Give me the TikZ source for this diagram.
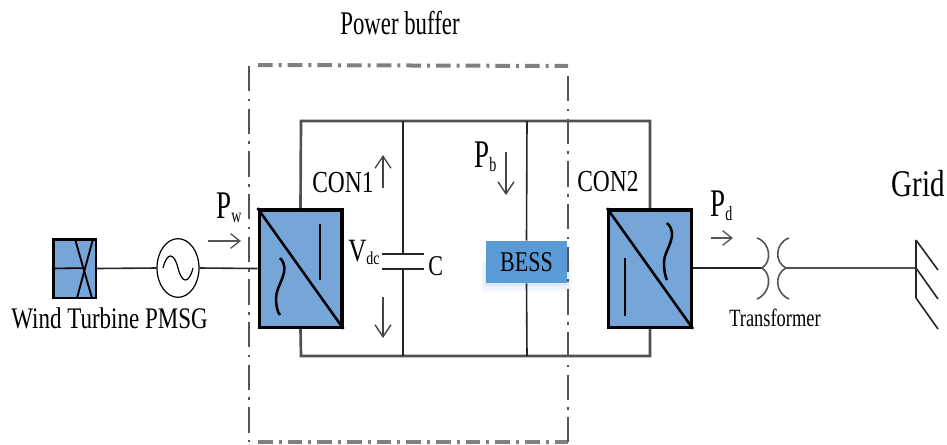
\documentclass[tikz,border=0pt]{standalone}
\usepackage{fontspec}
\usepackage{graphicx}
\setmainfont{Liberation Serif}
\usetikzlibrary{arrows.meta,shapes.geometric}
\definecolor{convfill}{HTML}{76A5D8}
\definecolor{bessfill}{HTML}{5B9BD5}
\definecolor{wirecol}{HTML}{262626}
\definecolor{buscol}{HTML}{505050}
\definecolor{buffcol}{HTML}{555555}
\definecolor{bufflight}{HTML}{808080}
\newcommand{\pxs}[1]{\fontsize{\the\dimexpr #1pt*3/4\relax}{\the\dimexpr #1pt*9/10\relax}\selectfont}
\newcommand{\stxt}[3]{\scalebox{1}[#1]{\pxs{#2}#3}}
\tikzset{
  x=0.75pt,y=-0.75pt,
  wire/.style={draw=buscol,line width=2pt},
  thinwire/.style={draw=wirecol,line width=1.2pt},
  box/.style={draw=black,line width=2.5pt,fill=convfill,inner sep=0pt,minimum width=62pt,minimum height=88pt},
  detail/.style={draw=black,line width=1.9pt},
  lab/.style={inner sep=0pt,text=black},
  flow/.style={draw=buffcol!80!black,line width=1pt,-{Straight Barb[length=9pt,width=12pt,line width=1pt]}},
  flowthick/.style={draw=buffcol,line width=1pt,-{Straight Barb[length=7pt,width=11pt,line width=1pt]}},
  bufferh/.style={draw=bufflight,line width=3pt,dash pattern=on 11pt off 4.5pt on 2.25pt off 4.5pt},
  bufferv/.style={draw=buffcol,line width=2pt,dash pattern=on 19pt off 5.5pt on 2pt off 5.5pt},
  bessbox/.style={fill=bessfill,inner sep=0pt,minimum width=60.75pt,minimum height=31.5pt,text=black},
  wt/.style={draw=black,line width=2pt,fill=convfill,inner sep=0pt,minimum width=32pt,minimum height=44pt},
  gen/.style={ellipse,draw=black,line width=.9pt,fill=white,inner sep=0pt,minimum width=31.5pt,minimum height=44pt},
}
\begin{document}
\begin{tikzpicture}
\useasboundingbox (0,0) rectangle (947,444);
% shadow
\foreach \o/\c in {9/05,6/07,3/10}{\fill[bessfill,opacity=.\c] (486-\o/2,262) rectangle (567+\o/2,283+\o);}
% nodes
\node[wt] (wt) at (74.5,268.5) {};
\node[gen] (gen) at (178,268) {};
\node[box] (con1) at (300.5,268.5) {};
\node[box] (con2) at (650,268.5) {};
\node[bessbox] (bess) at (526.5,262) {\stxt{1.3}{22}{BESS}};
\coordinate (tl) at (301,121);
\coordinate (tm1) at (403,121);
\coordinate (tm2) at (527,121);
\coordinate (tr) at (650,121);
\coordinate (bl) at (301,356);
\coordinate (bm1) at (403,356);
\coordinate (bm2) at (527,356);
\coordinate (br) at (650,356);
\coordinate (capt) at (403,254);
\coordinate (capb) at (403,269);
\coordinate (trl) at (762,268);
\coordinate (trr) at (786,268);
\coordinate (gt) at (916,240);
\coordinate (gm) at (916,268);
\coordinate (gb) at (916,298);
\coordinate (ba) at (249,66);
\coordinate (bb) at (568,66);
\coordinate (bc) at (568,442);
\coordinate (bd) at (249,442);
% turbine detail
\draw[thinwire,draw=black] (wt.west) -- (85,268);
\draw[detail,line width=1.4pt] (75,239) -- (92,298);
\draw[detail,line width=1.4pt] (93,239) -- (77,298);
% generator sine
\draw[draw=black,line width=.9pt] (163,268) .. controls (167,252) and (174,252) .. (178,268) .. controls (182,284) and (189,284) .. (193,268);
% wires
\draw[thinwire] (wt.east) -- (gen.west);
\draw[thinwire] (gen.east) -- (con1.west);
\draw[wire] (con1.north) -- (tl) -- (tr) -- (con2.north);
\draw[wire] (con1.south) -- (bl) -- (br) -- (con2.south);
\draw[thinwire] (tm1) -- (capt);
\draw[thinwire] (capb) -- (bm1);
\draw[thinwire] (tm2) -- (bess.north);
\draw[thinwire] (bess.south) -- (bm2);
\draw[thinwire] (382,254) -- (424,254);
\draw[thinwire] (382,269) -- (424,269);
\draw[thinwire] (con2.east |- trl) -- (trl);
\draw[wire] (trr) -- (gm);
\draw[thinwire] (gt) -- (gb);
\draw[thinwire] (gt) -- (938,270);
\draw[thinwire] (gm) -- (938,299);
\draw[thinwire] (gb) -- (938,329);
% transformer
\draw[thinwire,draw=buffcol] (757,238) .. controls (771,243) and (772,262) .. (762,268) .. controls (772,274) and (771,293) .. (757,299);
\draw[thinwire,draw=buffcol] (789,238) .. controls (775,243) and (774,262) .. (786,268) .. controls (774,274) and (775,293) .. (789,299);
% converter details
\draw[detail] (con1.north west) -- (con1.south east);
\draw[detail] (320,224) -- (320,280);
\draw[detail] (280,258) .. controls (292,270) and (276,285) .. (276,298) .. controls (276,304) and (277,312) .. (280,315);
\draw[detail] (con2.north west) -- (con2.south east);
\draw[detail] (625,258) -- (625,316);
\draw[detail] (667,223) .. controls (680,235) and (664,250) .. (664,262) .. controls (664,270) and (665,276) .. (667,280);
% buffer
\draw[bufferh] (258,65) -- (bb);
\draw[bufferh] (258,442) -- (bc);
\draw[bufferv] (ba) -- (bd);
\draw[bufferv] (568,76) -- (bc);
% arrows
\draw[flowthick,line width=1.8pt] (208,241) -- (241,241);
\draw[flowthick,line width=1.8pt] (711,238) -- (733,238);
\draw[flow] (383,188) -- (383,155);
\draw[flow] (383,297) -- (383,338);
\draw[flow] (506,152) -- (506,195);
% labels
\node[lab] (title) at (400,23) {\stxt{1.45}{22.8}{Power buffer}};
\node[lab] (lwt) at (109.5,318) {\stxt{1.3}{23}{Wind Turbine PMSG}};
\node[lab,anchor=west] (lpw) at (216,208) {\stxt{1.45}{27}{P\raisebox{-.2ex}{\pxs{14}w}}};
\node[lab,anchor=west] (lcon1) at (312,183) {\stxt{1.3}{23.5}{CON1}};
\node[lab,anchor=west] (lvdc) at (348,252) {\stxt{1.3}{25}{V\raisebox{-.2ex}{\pxs{14}dc}}};
\node[lab,anchor=west] (lc) at (428,266) {\stxt{1.3}{22}{C}};
\node[lab,anchor=west] (lpb) at (474,157) {\stxt{1.45}{27}{P\raisebox{-.2ex}{\pxs{14}b}}};
\node[lab,anchor=west] (lcon2) at (577,182) {\stxt{1.3}{23.5}{CON2}};
\node[lab,anchor=west] (lpd) at (710,206) {\stxt{1.45}{27}{P\raisebox{-.2ex}{\pxs{14}d}}};
\node[lab] (ltr) at (775,318) {\stxt{1.35}{18.4}{Transformer}};
\node[lab,anchor=east] (lgrid) at (945,184) {\stxt{1.3}{29}{Grid}};
\end{tikzpicture}
\end{document}
